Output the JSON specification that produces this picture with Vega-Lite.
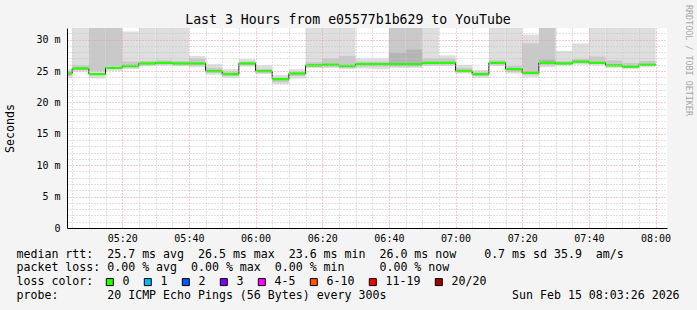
{
  "$schema": "https://vega.github.io/schema/vega-lite/v6.json",
  "width": 600,
  "height": 200,
  "autosize": {"type": "none"},
  "padding": {"left": 67, "top": 28, "right": 30, "bottom": 82},
  "background": "#f4f4f4",
  "config": {
    "view": {"fill": "white", "stroke": null},
    "font": "DejaVu Sans Mono"
  },
  "title": {
    "text": "Last 3 Hours from e05577b1b629 to YouTube",
    "font": "DejaVu Sans Mono",
    "fontSize": 13.2,
    "fontWeight": "normal",
    "color": "#000000",
    "anchor": "middle",
    "frame": "group",
    "dx": -19,
    "baseline": "alphabetic",
    "offset": -33
  },
  "data": {
    "values": [
      {"t": "2026-02-15T05:00:00Z", "t2": "2026-02-15T05:05:00Z", "med": 24.6, "glo": 24.42, "ghi": 24.78, "lo": 23.9, "hi": 25.3, "mlo": 24.2, "mhi": 25.0, "loss": "0"},
      {"t": "2026-02-15T05:05:00Z", "t2": "2026-02-15T05:10:00Z", "med": 25.4, "glo": 25.22, "ghi": 25.58, "lo": 24.9, "hi": 32, "mlo": 25.1, "mhi": 25.9, "loss": "0"},
      {"t": "2026-02-15T05:10:00Z", "t2": "2026-02-15T05:15:00Z", "med": 24.5, "glo": 24.32, "ghi": 24.68, "lo": 23.8, "hi": 32, "mlo": 25.0, "mhi": 32, "loss": "0"},
      {"t": "2026-02-15T05:15:00Z", "t2": "2026-02-15T05:20:00Z", "med": 25.5, "glo": 25.32, "ghi": 25.68, "lo": 25.0, "hi": 32, "mlo": 25.8, "mhi": 32, "loss": "0"},
      {"t": "2026-02-15T05:20:00Z", "t2": "2026-02-15T05:25:00Z", "med": 25.8, "glo": 25.62, "ghi": 25.98, "lo": 25.3, "hi": 31.3, "mlo": 25.5, "mhi": 26.5, "loss": "0"},
      {"t": "2026-02-15T05:25:00Z", "t2": "2026-02-15T05:30:00Z", "med": 26.2, "glo": 26.02, "ghi": 26.38, "lo": 25.8, "hi": 32, "mlo": 25.9, "mhi": 26.6, "loss": "0"},
      {"t": "2026-02-15T05:30:00Z", "t2": "2026-02-15T05:35:00Z", "med": 26.3, "glo": 26.12, "ghi": 26.48, "lo": 25.9, "hi": 32, "mlo": 26.0, "mhi": 26.7, "loss": "0"},
      {"t": "2026-02-15T05:35:00Z", "t2": "2026-02-15T05:40:00Z", "med": 26.2, "glo": 26.02, "ghi": 26.38, "lo": 25.8, "hi": 32, "mlo": 25.9, "mhi": 26.6, "loss": "0"},
      {"t": "2026-02-15T05:40:00Z", "t2": "2026-02-15T05:45:00Z", "med": 26.2, "glo": 26.02, "ghi": 26.38, "lo": 25.6, "hi": 27.4, "mlo": 25.9, "mhi": 27.0, "loss": "0"},
      {"t": "2026-02-15T05:45:00Z", "t2": "2026-02-15T05:50:00Z", "med": 25.0, "glo": 24.82, "ghi": 25.18, "lo": 24.4, "hi": 26.1, "mlo": 24.7, "mhi": 25.5, "loss": "0"},
      {"t": "2026-02-15T05:50:00Z", "t2": "2026-02-15T05:55:00Z", "med": 24.5, "glo": 24.32, "ghi": 24.68, "lo": 23.9, "hi": 25.3, "mlo": 24.2, "mhi": 24.9, "loss": "0"},
      {"t": "2026-02-15T05:55:00Z", "t2": "2026-02-15T06:00:00Z", "med": 26.2, "glo": 26.02, "ghi": 26.38, "lo": 25.7, "hi": 26.9, "mlo": 25.9, "mhi": 26.5, "loss": "0"},
      {"t": "2026-02-15T06:00:00Z", "t2": "2026-02-15T06:05:00Z", "med": 25.0, "glo": 24.82, "ghi": 25.18, "lo": 24.5, "hi": 25.9, "mlo": 24.7, "mhi": 25.3, "loss": "0"},
      {"t": "2026-02-15T06:05:00Z", "t2": "2026-02-15T06:10:00Z", "med": 23.7, "glo": 23.52, "ghi": 23.88, "lo": 22.9, "hi": 24.4, "mlo": 23.2, "mhi": 24.0, "loss": "0"},
      {"t": "2026-02-15T06:10:00Z", "t2": "2026-02-15T06:15:00Z", "med": 24.6, "glo": 24.42, "ghi": 24.78, "lo": 23.8, "hi": 25.3, "mlo": 24.2, "mhi": 24.9, "loss": "0"},
      {"t": "2026-02-15T06:15:00Z", "t2": "2026-02-15T06:20:00Z", "med": 25.9, "glo": 25.72, "ghi": 26.08, "lo": 25.5, "hi": 32, "mlo": 25.6, "mhi": 26.4, "loss": "0"},
      {"t": "2026-02-15T06:20:00Z", "t2": "2026-02-15T06:25:00Z", "med": 26.0, "glo": 25.82, "ghi": 26.18, "lo": 25.5, "hi": 32, "mlo": 25.6, "mhi": 27.0, "loss": "0"},
      {"t": "2026-02-15T06:25:00Z", "t2": "2026-02-15T06:30:00Z", "med": 25.8, "glo": 25.62, "ghi": 25.98, "lo": 25.3, "hi": 32, "mlo": 25.5, "mhi": 27.4, "loss": "0"},
      {"t": "2026-02-15T06:30:00Z", "t2": "2026-02-15T06:35:00Z", "med": 26.1, "glo": 25.92, "ghi": 26.28, "lo": 25.4, "hi": 27.0, "mlo": 25.7, "mhi": 26.5, "loss": "0"},
      {"t": "2026-02-15T06:35:00Z", "t2": "2026-02-15T06:40:00Z", "med": 26.1, "glo": 25.92, "ghi": 26.28, "lo": 25.3, "hi": 27.0, "mlo": 25.7, "mhi": 26.5, "loss": "0"},
      {"t": "2026-02-15T06:40:00Z", "t2": "2026-02-15T06:45:00Z", "med": 26.1, "glo": 25.92, "ghi": 26.28, "lo": 25.5, "hi": 32, "mlo": 25.7, "mhi": 32, "ilo": 25.8, "ihi": 27.9, "loss": "0"},
      {"t": "2026-02-15T06:45:00Z", "t2": "2026-02-15T06:50:00Z", "med": 26.1, "glo": 25.92, "ghi": 26.28, "lo": 25.5, "hi": 32, "mlo": 25.7, "mhi": 32, "ilo": 25.8, "ihi": 28.4, "loss": "0"},
      {"t": "2026-02-15T06:50:00Z", "t2": "2026-02-15T06:55:00Z", "med": 26.3, "glo": 26.12, "ghi": 26.48, "lo": 25.8, "hi": 32, "mlo": 26.0, "mhi": 27.0, "loss": "0"},
      {"t": "2026-02-15T06:55:00Z", "t2": "2026-02-15T07:00:00Z", "med": 26.3, "glo": 26.12, "ghi": 26.48, "lo": 25.8, "hi": 27.5, "mlo": 26.0, "mhi": 27.0, "loss": "0"},
      {"t": "2026-02-15T07:00:00Z", "t2": "2026-02-15T07:05:00Z", "med": 25.0, "glo": 24.82, "ghi": 25.18, "lo": 24.6, "hi": 26.0, "mlo": 24.8, "mhi": 25.5, "loss": "0"},
      {"t": "2026-02-15T07:05:00Z", "t2": "2026-02-15T07:10:00Z", "med": 24.5, "glo": 24.32, "ghi": 24.68, "lo": 23.9, "hi": 25.2, "mlo": 24.2, "mhi": 24.8, "loss": "0"},
      {"t": "2026-02-15T07:10:00Z", "t2": "2026-02-15T07:15:00Z", "med": 26.3, "glo": 26.12, "ghi": 26.48, "lo": 25.8, "hi": 32, "mlo": 26.0, "mhi": 26.7, "loss": "0"},
      {"t": "2026-02-15T07:15:00Z", "t2": "2026-02-15T07:20:00Z", "med": 25.3, "glo": 25.12, "ghi": 25.48, "lo": 24.6, "hi": 32, "mlo": 24.9, "mhi": 25.8, "loss": "0"},
      {"t": "2026-02-15T07:20:00Z", "t2": "2026-02-15T07:25:00Z", "med": 24.7, "glo": 24.52, "ghi": 24.88, "lo": 24.0, "hi": 30.8, "mlo": 24.4, "mhi": 29.4, "loss": "0"},
      {"t": "2026-02-15T07:25:00Z", "t2": "2026-02-15T07:30:00Z", "med": 26.3, "glo": 26.12, "ghi": 26.48, "lo": 25.6, "hi": 32, "mlo": 25.9, "mhi": 32, "ilo": 26.1, "ihi": 26.8, "loss": "0"},
      {"t": "2026-02-15T07:30:00Z", "t2": "2026-02-15T07:35:00Z", "med": 26.2, "glo": 26.02, "ghi": 26.38, "lo": 25.9, "hi": 28.2, "mlo": 26.0, "mhi": 26.6, "loss": "0"},
      {"t": "2026-02-15T07:35:00Z", "t2": "2026-02-15T07:40:00Z", "med": 26.5, "glo": 26.32, "ghi": 26.68, "lo": 26.0, "hi": 29.4, "mlo": 26.2, "mhi": 26.9, "loss": "0"},
      {"t": "2026-02-15T07:40:00Z", "t2": "2026-02-15T07:45:00Z", "med": 26.3, "glo": 26.12, "ghi": 26.48, "lo": 25.9, "hi": 32, "mlo": 26.1, "mhi": 27.3, "loss": "0"},
      {"t": "2026-02-15T07:45:00Z", "t2": "2026-02-15T07:50:00Z", "med": 25.9, "glo": 25.72, "ghi": 26.08, "lo": 25.5, "hi": 32, "mlo": 25.7, "mhi": 26.7, "loss": "0"},
      {"t": "2026-02-15T07:50:00Z", "t2": "2026-02-15T07:55:00Z", "med": 25.7, "glo": 25.52, "ghi": 25.88, "lo": 25.3, "hi": 32, "mlo": 25.5, "mhi": 26.3, "loss": "0"},
      {"t": "2026-02-15T07:55:00Z", "t2": "2026-02-15T08:00:00Z", "med": 26.0, "glo": 25.82, "ghi": 26.18, "lo": 25.6, "hi": 32, "mlo": 25.8, "mhi": 26.6, "loss": "0"}
    ]
  },
  "resolve": {"axis": {"x": "independent", "y": "independent"}},
  "layer": [
    {
      "mark": {"type": "rect", "color": "#dedede", "clip": true},
      "encoding": {
        "x": {
          "field": "t", "type": "temporal",
          "scale": {"type": "utc", "domain": [1771131806000, 1771142606000]},
          "axis": {
            "orient": "bottom",
            "values": [1771132800000, 1771134000000, 1771135200000, 1771136400000, 1771137600000, 1771138800000, 1771140000000, 1771141200000, 1771142400000],
            "format": "%H:%M",
            "grid": true, "gridColor": "#e89898", "gridDash": [1, 2], "gridWidth": 1,
            "ticks": false,
            "labelFont": "DejaVu Sans Mono", "labelFontSize": 10, "labelColor": "#000000",
            "labelPadding": 5, "labelFlush": false, "labelOverlap": false, "labelBound": false,
            "domainColor": "#000000", "domainWidth": 1,
            "title": [
              "median rtt:\u00a0\u00a025.7 ms avg\u00a0\u00a026.5 ms max\u00a0\u00a023.6 ms min\u00a0\u00a026.0 ms now\u00a0\u00a0\u00a0\u00a00.7 ms sd 35.9\u00a0\u00a0am/s",
              "packet loss: 0.00 % avg\u00a0\u00a00.00 % max\u00a0\u00a00.00 % min\u00a0\u00a0\u00a0\u00a0\u00a00.00 % now",
              "loss color:",
              "probe:\u00a0\u00a0\u00a0\u00a0\u00a0\u00a0\u00a020 ICMP Echo Pings (56 Bytes) every 300s\u00a0\u00a0\u00a0\u00a0\u00a0\u00a0\u00a0\u00a0\u00a0\u00a0\u00a0\u00a0\u00a0\u00a0\u00a0\u00a0\u00a0\u00a0Sun Feb 15 08:03:26 2026"
            ],
            "titleFont": "DejaVu Sans Mono", "titleFontSize": 11.6, "titleFontWeight": "normal",
            "titleColor": "#000000", "titleAlign": "left", "titleAnchor": "start",
            "titleX": -51, "titleY": 20, "titleBaseline": "top", "titleLineHeight": 13.8,
            "zindex": 2
          }
        },
        "x2": {"field": "t2"},
        "y": {
          "field": "lo", "type": "quantitative",
          "scale": {"domain": [0, 31.85], "nice": false, "zero": true},
          "axis": {
            "orient": "left",
            "values": [0, 5, 10, 15, 20, 25, 30],
            "labelExpr": "datum.value == 0 ? '0' : datum.value + ' m'",
            "grid": true, "gridColor": "#e89898", "gridDash": [1, 2], "gridWidth": 1,
            "ticks": false, "labelPadding": 7,
            "labelFont": "DejaVu Sans Mono", "labelFontSize": 10, "labelColor": "#000000",
            "domainColor": "#000000", "domainWidth": 1,
            "title": "Seconds",
            "titleFont": "DejaVu Sans Mono", "titleFontSize": 11.6, "titleFontWeight": "normal",
            "titleColor": "#000000", "titleAngle": -90, "titleX": -57, "titleY": 100,
            "titleAlign": "center", "titleBaseline": "middle",
            "zindex": 2
          }
        },
        "y2": {"field": "hi"}
      }
    },
    {
      "mark": {"type": "rect", "color": "#c9c9c9", "clip": true},
      "encoding": {
        "x": {
          "field": "t", "type": "temporal", "scale": {"type": "utc"},
          "axis": {
            "orient": "bottom",
            "values": [1771131900000, 1771132200000, 1771132500000, 1771133100000, 1771133400000, 1771133700000, 1771134300000, 1771134600000, 1771134900000, 1771135500000, 1771135800000, 1771136100000, 1771136700000, 1771137000000, 1771137300000, 1771137900000, 1771138200000, 1771138500000, 1771139100000, 1771139400000, 1771139700000, 1771140300000, 1771140600000, 1771140900000, 1771141500000, 1771141800000, 1771142100000],
            "grid": true, "gridColor": "#c4c4c4", "gridDash": [1, 2], "gridWidth": 1,
            "labels": false, "ticks": false, "domain": false, "title": null, "zindex": 1
          }
        },
        "x2": {"field": "t2"},
        "y": {
          "field": "mlo", "type": "quantitative",
          "axis": {
            "orient": "left",
            "values": [1, 2, 3, 4, 6, 7, 8, 9, 11, 12, 13, 14, 16, 17, 18, 19, 21, 22, 23, 24, 26, 27, 28, 29, 31],
            "grid": true, "gridColor": "#c4c4c4", "gridDash": [1, 2], "gridWidth": 1,
            "labels": false, "ticks": false, "domain": false, "title": null, "zindex": 1
          }
        },
        "y2": {"field": "mhi"}
      }
    },
    {
      "transform": [{"filter": "isValid(datum.ilo)"}],
      "mark": {"type": "rect", "color": "#b5b5b5", "clip": true},
      "encoding": {
        "x": {"field": "t", "type": "temporal", "scale": {"type": "utc"}, "axis": null},
        "x2": {"field": "t2"},
        "y": {
          "field": "ilo", "type": "quantitative",
          "axis": {
            "orient": "right",
            "labels": false, "ticks": false, "domain": false, "grid": false,
            "title": "RRDTOOL / TOBI OETIKER",
            "titleFont": "DejaVu Sans Mono", "titleFontSize": 8.4, "titleFontWeight": "normal",
            "titleColor": "#a8a8a8", "titleAngle": 90, "titleX": 21, "titleY": 32,
            "titleAlign": "center", "titleBaseline": "middle"
          }
        },
        "y2": {"field": "ihi"}
      }
    },
    {
      "mark": {"type": "line", "interpolate": "step-before", "color": "#202020", "strokeWidth": 1, "clip": true},
      "encoding": {
        "x": {"field": "t2", "type": "temporal", "scale": {"type": "utc"}, "axis": null},
        "y": {"field": "med", "type": "quantitative", "axis": null}
      }
    },
    {
      "mark": {"type": "rect", "clip": true},
      "encoding": {
        "x": {"field": "t", "type": "temporal", "scale": {"type": "utc"}, "axis": null},
        "x2": {"field": "t2"},
        "y": {"field": "glo", "type": "quantitative", "axis": null},
        "y2": {"field": "ghi"},
        "color": {
          "field": "loss", "type": "nominal",
          "scale": {
            "domain": ["0", "1", "2", "3", "4-5", "6-10", "11-19", "20/20"],
            "range": ["#26ff00", "#00b8ff", "#0059ff", "#7e00ff", "#ff00ff", "#ff5500", "#ff0000", "#a00000"]
          },
          "legend": {
            "orient": "none", "legendX": 37, "legendY": 248,
            "direction": "horizontal", "title": null,
            "symbolType": "square", "symbolSize": 49,
            "symbolStrokeColor": "#000000", "symbolStrokeWidth": 1,
            "labelFont": "DejaVu Sans Mono", "labelFontSize": 11.6, "labelColor": "#000000",
            "labelOffset": 7, "columnPadding": 12
          }
        }
      }
    }
  ]
}
